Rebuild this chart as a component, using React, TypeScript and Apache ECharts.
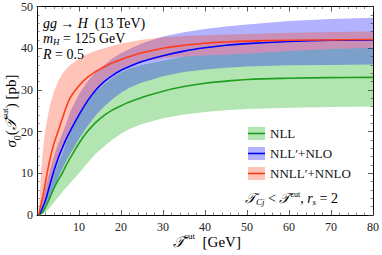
import React, { useEffect, useRef } from "react";
import * as echarts from "echarts";

// T^cut grid (GeV)
const T = [0.4, 1, 1.5, 2, 3, 4, 5, 6, 7, 8, 10, 12, 14, 16, 18, 20, 22, 25, 30, 35, 40, 45, 50, 60, 70, 80];

// NNLL'+NNLO (red)
const redMid = [0, 2.8, 5, 7.8, 13, 17, 20, 23, 26, 28.3, 31, 33, 34.4, 35.5, 36.5, 37.3, 38, 38.9, 40, 40.7, 41.2, 41.5, 41.7, 41.9, 42, 42.1];
const redLo = [0, 1, 2.2, 3.5, 7, 10.5, 13.5, 16, 18.3, 20.3, 24, 27.5, 30.3, 32.4, 33.9, 35, 35.9, 36.8, 37.6, 38, 38.3, 38.5, 38.7, 39.3, 39.8, 40.1];
const redHi = [0, 11, 16.5, 20.5, 26, 29.5, 32, 33.8, 35.1, 36.1, 37.5, 38.6, 39.4, 40, 40.6, 41.1, 41.5, 42, 42.6, 42.9, 43.1, 43.3, 43.4, 43.7, 43.9, 44];

// NLL'+NLO (blue)
const blueMid = [0, 1, 2.2, 3.5, 7, 10.5, 13.5, 16, 18.3, 20.3, 24, 27.3, 30, 32, 33.5, 34.7, 35.6, 36.8, 38.2, 39.3, 40.1, 40.7, 41.1, 41.6, 41.9, 42];
const blueLo = [0, 0.3, 0.9, 2.2, 4.3, 6.5, 8.8, 11, 13, 14.8, 18.2, 21.3, 23.9, 26, 27.8, 29.3, 30.5, 31.8, 33.3, 34.3, 34.9, 35.3, 35.6, 35.9, 36, 36.1];
const blueHi = [0, 2, 4.3, 6.5, 10.5, 14, 17, 19.5, 22, 25, 29, 32, 34.3, 36, 37.6, 38.8, 39.8, 41.2, 42.8, 43.8, 44.6, 45.2, 45.7, 46.5, 47, 47.3];

// NLL (green)
const greenMid = [0, 0.3, 0.9, 1.8, 4, 6.3, 8.3, 10, 12, 13.8, 17.2, 20, 22.2, 23.9, 25.2, 26.2, 27.1, 28.2, 29.7, 30.8, 31.6, 32.1, 32.5, 32.8, 32.95, 33];
const greenLo = [0, 0.1, 0.3, 0.6, 1.7, 3, 4.2, 5.5, 6.6, 7.8, 10, 12.5, 14.7, 16.5, 18.1, 19.5, 20.6, 21.8, 23.2, 24.1, 24.7, 25.1, 25.4, 25.7, 25.9, 26];
const greenHi = [0, 0.6, 1.6, 2.8, 6.3, 9.6, 12.4, 14.5, 17.4, 19.8, 23.8, 27, 29.6, 31.3, 33, 34.2, 35.1, 36, 37, 38, 38.3, 38.5, 38.7, 39.3, 39.8, 40.1];

const xTicks = [0, 80, 10];
const yTicks = [0, 50, 10];

const legendNames = ["NLL", "NLL\u2032+NLO", "NNLL\u2032+NNLO"];

const SERIF = "'Liberation Serif', 'DejaVu Serif', serif";
const GREEN = "#1f9e1f";
const BLUE = "#0000ff";
const RED = "#ff3c1c";
const GREEN_BAND = "rgba(0,170,0,0.3)";
const BLUE_BAND = "rgba(0,0,255,0.3)";
const RED_BAND = "rgba(255,70,30,0.32)";

function bandSeries(lo: number[], hi: number[], color: string) {
  return {
    type: "custom",
    silent: true,
    z: 1,
    data: [[T[0], lo[0]]],
    renderItem: (_params: any, api: any) => {
      const pts: number[][] = [];
      for (let i = 0; i < T.length; i++) pts.push(api.coord([T[i], hi[i]]));
      for (let i = T.length - 1; i >= 0; i--) pts.push(api.coord([T[i], lo[i]]));
      return {
        type: "polygon",
        shape: { points: pts },
        style: { fill: color, stroke: null },
      };
    },
  };
}

function lineSeries(mid: number[], color: string, z: number) {
  return {
    type: "line",
    symbol: "none",
    smooth: 0.4,
    silent: true,
    data: T.map((t, i) => [t, mid[i]]),
    lineStyle: { color, width: 1.6 },
    z,
  };
}

function axisCommon(min: number, max: number, interval: number, position: string, showLabel: boolean) {
  return {
    type: "value",
    min,
    max,
    interval,
    position,
    axisLine: { show: true, onZero: false, lineStyle: { color: "#000", width: 1 } },
    axisTick: { show: true, inside: true, length: 5, lineStyle: { color: "#333", width: 0.8 } },
    minorTick: { show: true, splitNumber: 5, length: 2.5, lineStyle: { color: "#333", width: 0.6 } },
    splitLine: { show: false },
    minorSplitLine: { show: false },
    axisLabel: {
      show: showLabel,
      color: "#222",
      fontFamily: SERIF,
      fontSize: 12,
    },
  };
}

const rich = {
  n: { fontFamily: SERIF, fontSize: 14, color: "#111", lineHeight: 13 },
  i: { fontFamily: SERIF, fontSize: 14, fontStyle: "italic", color: "#111", lineHeight: 13 },
  sub: { fontFamily: SERIF, fontSize: 9, fontStyle: "italic", color: "#111", verticalAlign: "bottom", lineHeight: 16 },
  subn: { fontFamily: SERIF, fontSize: 9, color: "#111", verticalAlign: "bottom", lineHeight: 16 },
  sup: { fontFamily: SERIF, fontSize: 8, color: "#111", verticalAlign: "top", lineHeight: 16 },
};

const richBig = {
  n: { fontFamily: SERIF, fontSize: 15, color: "#111", lineHeight: 18 },
  i: { fontFamily: SERIF, fontSize: 15, fontStyle: "italic", color: "#111", lineHeight: 18 },
  subn: { fontFamily: SERIF, fontSize: 10, color: "#111", verticalAlign: "bottom", lineHeight: 22 },
  sup: { fontFamily: SERIF, fontSize: 9, color: "#111", verticalAlign: "top", lineHeight: 22 },
};

export default function App() {
  const ref = useRef<HTMLDivElement>(null);
  useEffect(() => {
    if (!ref.current) return;
    const chart = echarts.init(ref.current, null, { renderer: "svg" });
    const legendRows = [
      { band: "#b3e6b3", line: GREEN, y: 133.5 },
      { band: "#b3b3ff", line: BLUE, y: 153.5 },
      { band: "#ffc4b6", line: RED, y: 173.5 },
    ];
    const legendGraphics: any[] = [];
    legendRows.forEach((r, i) => {
      legendGraphics.push({
        type: "rect",
        shape: { x: 248, y: r.y - 6.5, width: 17, height: 13 },
        style: { fill: r.band },
        z: 10,
      });
      legendGraphics.push({
        type: "line",
        shape: { x1: 248, y1: r.y, x2: 265, y2: r.y },
        style: { stroke: r.line, lineWidth: 1.6 },
        z: 11,
      });
      legendGraphics.push({
        type: "text",
        x: 270,
        y: r.y,
        style: {
          text: legendNames[i],
          font: `13px ${SERIF}`,
          fill: "#111",
          verticalAlign: "middle",
          align: "left",
        },
        z: 11,
      });
    });

    const option: any = {
      animation: false,
      grid: { left: 37, right: 6, top: 6.5, bottom: 40, containLabel: false },
      xAxis: [
        {
          ...axisCommon(xTicks[0], xTicks[1], xTicks[2], "bottom", true),
          axisLabel: {
            color: "#222",
            fontFamily: SERIF,
            fontSize: 12,
            margin: 6,
            formatter: (v: number) => (v === 0 ? "" : String(v)),
          },
        },
        axisCommon(xTicks[0], xTicks[1], xTicks[2], "top", false),
      ],
      yAxis: [
        {
          ...axisCommon(yTicks[0], yTicks[1], yTicks[2], "left", true),
          axisLabel: { color: "#222", fontFamily: SERIF, fontSize: 12, margin: 4 },
        },
        axisCommon(yTicks[0], yTicks[1], yTicks[2], "right", false),
      ],
      series: [
        bandSeries(greenLo, greenHi, GREEN_BAND),
        bandSeries(blueLo, blueHi, BLUE_BAND),
        bandSeries(redLo, redHi, RED_BAND),
        lineSeries(greenMid, GREEN, 3),
        lineSeries(blueMid, BLUE, 4),
        lineSeries(redMid, RED, 5),
      ],
      graphic: [
        {
          type: "text",
          x: 43,
          y: 23,
          style: { text: "{i|gg} {n|\u2192} {i|H}{n|  (13 TeV)}", rich, verticalAlign: "middle" },
          z: 12,
        },
        {
          type: "text",
          x: 43,
          y: 38.5,
          style: { text: "{i|m}{sub|H}{n| = 125 GeV}", rich, verticalAlign: "middle" },
          z: 12,
        },
        {
          type: "text",
          x: 43,
          y: 54,
          style: { text: "{i|R}{n| = 0.5}", rich, verticalAlign: "middle" },
          z: 12,
        },
        {
          type: "text",
          x: 245,
          y: 198,
          style: {
            text: "{i|\uD835\uDCAF}{sub|Cj}{n| < }{i|\uD835\uDCAF}{sup|cut}{n|, }{i|r}{sub|s}{n| = 2}",
            rich,
            verticalAlign: "middle",
          },
          z: 12,
        },
        {
          type: "text",
          x: 207,
          y: 242,
          style: {
            text: "{i|\uD835\uDCAF}{sup|cut}{n|  [GeV]}",
            rich: richBig,
            align: "center",
            verticalAlign: "middle",
          },
          z: 12,
        },
        {
          type: "text",
          x: 11,
          y: 111,
          rotation: Math.PI / 2,
          style: {
            text: "{i|\u03C3}{subn|0}{n|(}{i|\uD835\uDCAF}{sup|cut}{n|) [pb]}",
            rich: richBig,
            align: "center",
            verticalAlign: "middle",
          },
          z: 12,
        },
        ...legendGraphics,
      ],
    };
    chart.setOption(option);
    return () => chart.dispose();
  }, []);
  return (
    <div
      ref={ref}
      style={{ position: "fixed", left: 0, top: 0, width: 382, height: 255, background: "#fff" }}
    />
  );
}
